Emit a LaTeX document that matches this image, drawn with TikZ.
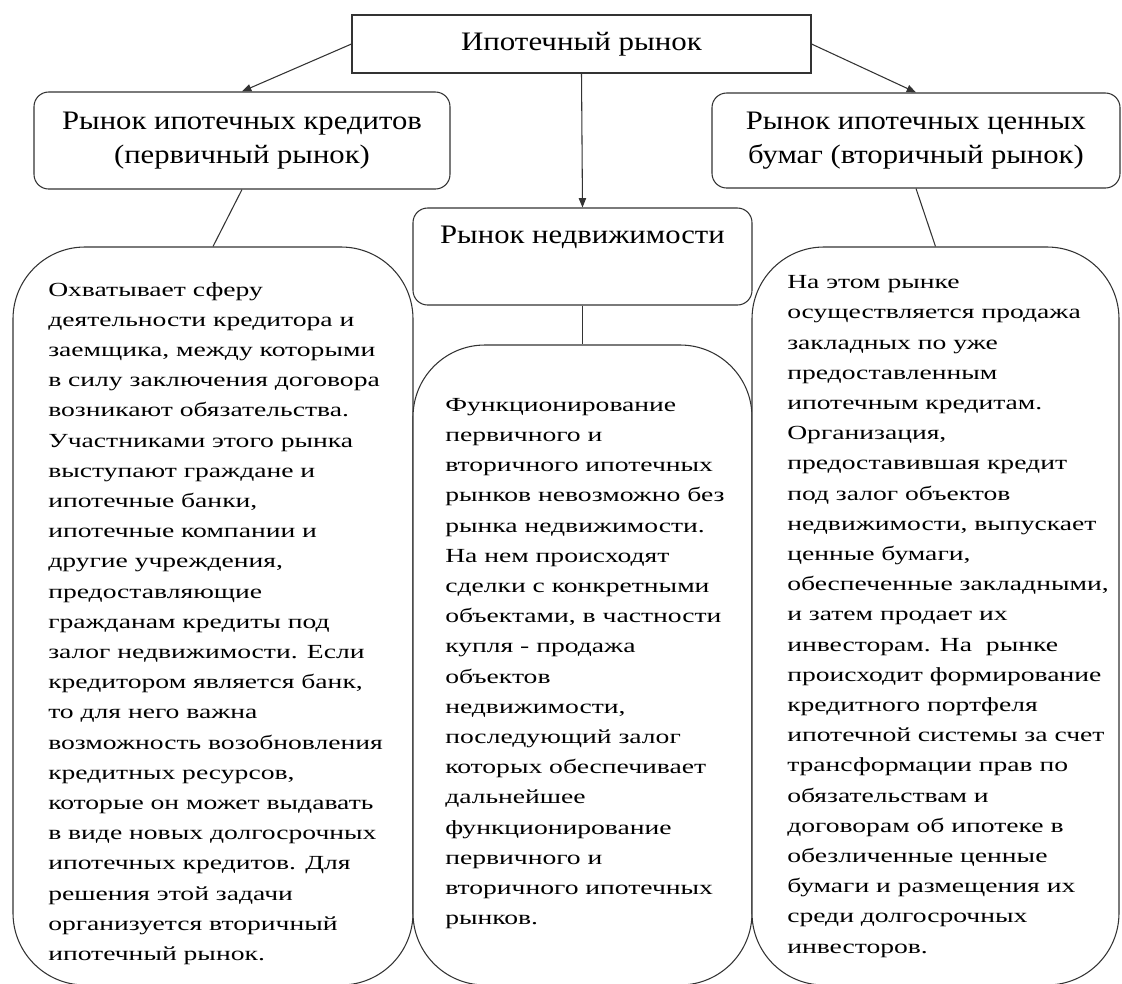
\documentclass[tikz,border=0pt]{standalone}
\usepackage{fontspec}
\setmainfont{Liberation Serif}
\newfontfamily\titlefont{Liberation Serif}[FakeStretch=1.16]
\newfontfamily\headfont{Liberation Serif}[FakeStretch=1.15]
\newfontfamily\bodyfont{Liberation Serif}[FakeStretch=1.38]
\usetikzlibrary{arrows.meta}
\definecolor{edge}{HTML}{333333}

\begin{document}
\begin{tikzpicture}[x=0.75pt,y=-0.75pt,
  frame/.style={draw=edge,line width=0.8pt,fill=white,inner sep=0pt},
  headbox/.style={frame,rounded corners=11pt,align=center,font=\headfont\fontsize{20}{25.5}\selectfont},
  bodybox/.style={frame,rounded corners=54pt},
  bodytext/.style={anchor=west,inner sep=0pt,align=left,font=\bodyfont\fontsize{15}{22.65}\selectfont},
  arr/.style={draw=edge,line width=0.8pt,-{Triangle[length=7pt,width=5.5pt]}},
  link/.style={draw=edge,line width=0.8pt}]
  \useasboundingbox (0,0) rectangle (1122,983);
  \clip (0,0) rectangle (1122,983);
  \node[frame,minimum width=344.25pt,minimum height=43.5pt,font=\titlefont\fontsize{20}{24}\selectfont] (market) at (581.5,44) {Ипотечный рынок};
  \node[headbox,minimum width=312pt,minimum height=72.75pt] (primary) at (242,140.5) {Рынок ипотечных кредитов\\(первичный рынок)};
  \node[headbox,minimum width=306pt,minimum height=71.25pt] (secondary) at (916,140.5) {Рынок ипотечных ценных\\бумаг (вторичный рынок)};
  \node[headbox,minimum width=254.25pt,minimum height=72.75pt] (estate) at (582.5,256.5) {Рынок недвижимости\\\strut};
  \node[bodybox,minimum width=300pt,minimum height=553.5pt] (primarybox) at (213,616) {};
  \node[bodybox,minimum width=254.25pt,minimum height=480pt] (estatebox) at (582.5,665) {};
  \node[bodybox,minimum width=275.25pt,minimum height=553.5pt] (secondarybox) at (935.5,616) {};
  \node[bodytext] (primarytext) at (48,623.5) {Охватывает сферу\\
    деятельности кредитора и\\
    заемщика, между которыми\\
    в силу заключения договора\\
    возникают обязательства.\\
    Участниками этого рынка\\
    выступают граждане и\\
    ипотечные банки,\\
    ипотечные компании и\\
    другие учреждения,\\
    предоставляющие\\
    гражданам кредиты под\\
    залог недвижимости. Если\\
    кредитором является банк,\\
    то для него важна\\
    возможность возобновления\\
    кредитных ресурсов,\\
    которые он может выдавать\\
    в виде новых долгосрочных\\
    ипотечных кредитов. Для\\
    решения этой задачи\\
    организуется вторичный\\
    ипотечный рынок.};
  \node[bodytext] (estatetext) at (445,663.5) {Функционирование\\
    первичного и\\
    вторичного ипотечных\\
    рынков невозможно без\\
    рынка недвижимости.\\
    На нем происходят\\
    сделки с конкретными\\
    объектами, в частности\\
    купля - продажа\\
    объектов\\
    недвижимости,\\
    последующий залог\\
    которых обеспечивает\\
    дальнейшее\\
    функционирование\\
    первичного и\\
    вторичного ипотечных\\
    рынков.};
  \node[bodytext] (secondarytext) at (787,616.5) {На этом рынке\\
    осуществляется продажа\\
    закладных по уже\\
    предоставленным\\
    ипотечным кредитам.\\
    Организация,\\
    предоставившая кредит\\
    под залог объектов\\
    недвижимости, выпускает\\
    ценные бумаги,\\
    обеспеченные закладными,\\
    и затем продает их\\
    инвесторам. На\ \ рынке\\
    происходит формирование\\
    кредитного портфеля\\
    ипотечной системы за счет\\
    трансформации прав по\\
    обязательствам и\\
    договорам об ипотеке в\\
    обезличенные ценные\\
    бумаги и размещения их\\
    среди долгосрочных\\
    инвесторов.};
  \draw[arr] (market.west) -- (primary.north);
  \draw[arr] (market.east) -- (secondary.north);
  \draw[arr] (market.south) -- (estate.north);
  \draw[link] (primary.south) -- (primarybox.north);
  \draw[link] (secondary.south) -- (secondarybox.north);
  \draw[link] (estate.south) -- (estatebox.north);
\end{tikzpicture}
\end{document}
